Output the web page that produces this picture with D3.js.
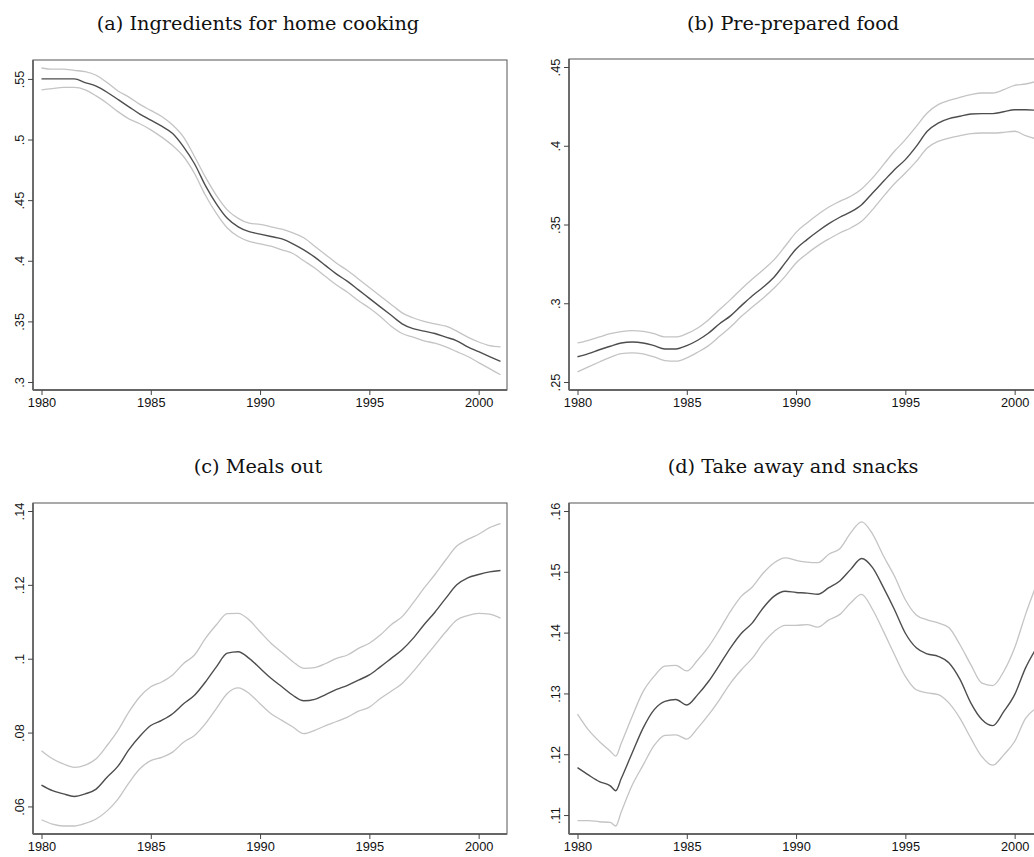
<!DOCTYPE html>
<html>
<head>
<meta charset="utf-8">
<script src="https://cdn.jsdelivr.net/npm/d3@7"></script>
<style>
  body { margin: 0; background: #fff; }
  svg { display: block; }
  .tick text { font-family: "Liberation Sans", Arial, sans-serif; font-size: 12.8px; fill: #111; }
  .title { font-family: "DejaVu Serif", "Liberation Serif", serif; font-size: 19.3px; fill: #111; }
</style>
</head>
<body>
<svg id="chart" width="1034" height="857"></svg>
<script>
// half-year grid used by panels a-c
const years = [1980, 1980.5, 1981, 1981.5, 1982, 1982.5, 1983, 1983.5, 1984, 1984.5,
  1985, 1985.5, 1986, 1986.5, 1987, 1987.5, 1988, 1988.5, 1989, 1989.5,
  1990, 1990.5, 1991, 1991.5, 1992, 1992.5, 1993, 1993.5, 1994, 1994.5,
  1995, 1995.5, 1996, 1996.5, 1997, 1997.5, 1998, 1998.5, 1999, 1999.5,
  2000, 2000.5, 2001];
// panel d has an extra point at the 1981 dip
const yearsD = [1980, 1980.5, 1981, 1981.5, 1981.75, 1982, 1982.5, 1983, 1983.5, 1984, 1984.5,
  1985, 1985.5, 1986, 1986.5, 1987, 1987.5, 1988, 1988.5, 1989, 1989.5,
  1990, 1990.5, 1991, 1991.5, 1992, 1992.5, 1993, 1993.5, 1994, 1994.5,
  1995, 1995.5, 1996, 1996.5, 1997, 1997.5, 1998, 1998.5, 1999, 1999.5,
  2000, 2000.5, 2001];

const xTicks = [1980, 1985, 1990, 1995, 2000];

// (a) Ingredients for home cooking
const homeMid = [.550, .550, .550, .550, .547, .544, .539, .533, .527, .521,
  .516, .511, .505, .494, .480, .462, .447, .435, .428, .424,
  .422, .420, .418, .414, .409, .403, .396, .389, .383, .376,
  .369, .362, .355, .348, .344, .342, .340, .337, .334, .329,
  .325, .321, .317];
const homeUp = [.559, .558, .558, .557, .556, .553, .547, .540, .535, .529,
  .524, .519, .512, .502, .486, .469, .454, .442, .435, .431,
  .430, .428, .426, .423, .419, .412, .405, .398, .392, .385,
  .378, .371, .364, .357, .353, .350, .348, .346, .342, .337,
  .333, .330, .329];
const homeLo = [.541, .542, .543, .543, .541, .536, .530, .523, .517, .513,
  .508, .502, .495, .486, .472, .454, .439, .427, .420, .416,
  .414, .412, .409, .406, .400, .394, .387, .380, .374, .367,
  .361, .354, .346, .340, .337, .334, .332, .329, .325, .321,
  .316, .311, .306];
const homeTicks = [.3, .35, .4, .45, .5, .55];

// (b) Pre-prepared food
const prepMid = [.2660, .2680, .2705, .2727, .2748, .2754, .2748, .2731, .2710, .2710,
  .2731, .2765, .2811, .2870, .2920, .2985, .3048, .3103, .3167, .3256,
  .3345, .3404, .3457, .3505, .3546, .3580, .3626, .3700, .3774, .3848,
  .3912, .3996, .4092, .4144, .4172, .4187, .4202, .4204, .4204, .4216,
  .4229, .4229, .4225];
const prepUp = [.2748, .2765, .2786, .2807, .2820, .2826, .2822, .2807, .2786, .2786,
  .2807, .2843, .2896, .2960, .3023, .3091, .3154, .3213, .3277, .3362,
  .3450, .3510, .3563, .3611, .3647, .3679, .3726, .3796, .3880, .3965,
  .4039, .4123, .4208, .4261, .4288, .4307, .4324, .4335, .4335, .4356,
  .4384, .4392, .4409];
const prepLo = [.2564, .2596, .2627, .2657, .2680, .2685, .2678, .2659, .2636, .2632,
  .2653, .2689, .2731, .2790, .2849, .2917, .2976, .3034, .3097, .3171,
  .3256, .3315, .3366, .3408, .3446, .3478, .3520, .3594, .3679, .3759,
  .3827, .3901, .3986, .4028, .4049, .4064, .4077, .4081, .4081, .4085,
  .4092, .4064, .4043];
const prepTicks = [.25, .3, .35, .4, .45];

// (c) Meals out
const mealsMid = [.0658, .0643, .0634, .0627, .0634, .0647, .0679, .0709, .0754, .0790,
  .0819, .0833, .0851, .0878, .0901, .0937, .0978, .1015, .1019, .1001,
  .0974, .0947, .0924, .0901, .0886, .0890, .0903, .0917, .0928, .0942,
  .0956, .0978, .1001, .1024, .1055, .1092, .1126, .1164, .1200, .1219,
  .1228, .1235, .1239];
const mealsUp = [.0751, .0729, .0715, .0706, .0712, .0729, .0765, .0806, .0856, .0897,
  .0924, .0937, .0956, .0987, .1010, .1055, .1092, .1122, .1123, .1105,
  .1073, .1042, .1017, .0992, .0974, .0976, .0987, .1001, .1010, .1028,
  .1042, .1064, .1092, .1114, .1151, .1191, .1228, .1268, .1305, .1323,
  .1337, .1355, .1366];
const mealsLo = [.0564, .0552, .0547, .0547, .0554, .0566, .0588, .0620, .0664, .0702,
  .0724, .0733, .0747, .0774, .0792, .0824, .0865, .0906, .0921, .0906,
  .0878, .0851, .0833, .0815, .0797, .0806, .0819, .0830, .0842, .0858,
  .0869, .0892, .0912, .0933, .0965, .1001, .1037, .1073, .1105, .1117,
  .1123, .1121, .1110];
const mealsTicks = [.06, .08, .1, .12, .14];

// (d) Take away and snacks
const takeMid = [.1178, .1166, .1155, .1148, .1140, .1160, .1202, .1243, .1273, .1287, .1290,
  .1281, .1298, .1320, .1347, .1375, .1399, .1416, .1441, .1460, .1468,
  .1466, .1465, .1463, .1474, .1485, .1504, .1522, .1507, .1474, .1438,
  .1399, .1375, .1365, .1361, .1350, .1323, .1284, .1257, .1247, .1270,
  .1298, .1342, .1375];
const takeUp = [.1266, .1240, .1221, .1205, .1197, .1218, .1262, .1303, .1328, .1345, .1346,
  .1337, .1355, .1377, .1405, .1435, .1460, .1475, .1498, .1515, .1523,
  .1519, .1516, .1515, .1529, .1538, .1564, .1582, .1562, .1526, .1493,
  .1454, .1429, .1421, .1416, .1408, .1380, .1347, .1317, .1313, .1336,
  .1375, .1430, .1479];
const takeLo = [.1091, .1091, .1089, .1088, .1082, .1105, .1149, .1182, .1214, .1231, .1232,
  .1225, .1243, .1265, .1290, .1317, .1339, .1358, .1383, .1402, .1412,
  .1412, .1413, .1409, .1421, .1430, .1449, .1463, .1438, .1402, .1364,
  .1328, .1306, .1301, .1298, .1284, .1259, .1226, .1196, .1182, .1199,
  .1221, .1259, .1276];
const takeTicks = [.11, .12, .13, .14, .15, .16];

const ciColor = '#c4c4c4';
const midColor = '#4d4d4d';

const panels = [
  { title: '(a) Ingredients for home cooking', x: years, mid: homeMid, up: homeUp, lo: homeLo,
    ticks: homeTicks, box: { left: 33, right: 507, top: 60, bottom: 390 }, titleX: 258, titleY: 30 },
  { title: '(b) Pre-prepared food', x: years, mid: prepMid, up: prepUp, lo: prepLo,
    ticks: prepTicks, box: { left: 569, right: 1043, top: 59, bottom: 390 }, titleX: 793, titleY: 30 },
  { title: '(c) Meals out', x: years, mid: mealsMid, up: mealsUp, lo: mealsLo,
    ticks: mealsTicks, box: { left: 33, right: 507, top: 503, bottom: 834 }, titleX: 258, titleY: 473 },
  { title: '(d) Take away and snacks', x: yearsD, mid: takeMid, up: takeUp, lo: takeLo,
    ticks: takeTicks, box: { left: 569, right: 1043, top: 503, bottom: 834 }, titleX: 793, titleY: 473 }
];

const svg = d3.select('#chart');
svg.append('rect').attr('width', 1034).attr('height', 857).attr('fill', '#fff');

function fmtTick(v) {
  // stata style: drop the leading zero
  return d3.format('')(+v.toFixed(3)).replace(/^0\./, '.');
}

panels.forEach(p => {
  const b = p.box;
  const pad = 8;

  let x = d3.scaleLinear()
    .domain([1980, 2001])
    .range([b.left + 8.5, b.right - 6.5]);

  let allVals = p.up.concat(p.lo, p.ticks);
  let y = d3.scaleLinear()
    .domain(d3.extent(allVals))
    .range([b.bottom - pad, b.top + pad]);

  let g = svg.append('g');

  g.append('text')
    .attr('class', 'title')
    .attr('x', p.titleX)
    .attr('y', p.titleY)
    .attr('text-anchor', 'middle')
    .text(p.title);

  // plot frame
  g.append('rect')
    .attr('x', b.left)
    .attr('y', b.top)
    .attr('width', b.right - b.left)
    .attr('height', b.bottom - b.top)
    .attr('fill', 'none')
    .attr('stroke', '#555')
    .attr('stroke-width', 1);

  let line = d3.line()
    .x((d, i) => x(p.x[i]))
    .y(d => y(d))
    .curve(d3.curveMonotoneX);

  [[p.up, ciColor, 1.3], [p.lo, ciColor, 1.3], [p.mid, midColor, 1.4]].forEach(s => {
    g.append('path')
      .datum(s[0])
      .attr('fill', 'none')
      .attr('stroke', s[1])
      .attr('stroke-width', s[2])
      .attr('stroke-linejoin', 'round')
      .attr('d', line);
  });

  let xAxis = d3.axisBottom(x)
    .tickValues(xTicks)
    .tickFormat(d3.format('d'))
    .tickSize(5)
    .tickPadding(3);

  let xg = g.append('g')
    .attr('transform', `translate(0, ${b.bottom})`)
    .call(xAxis);
  xg.select('.domain')
    .attr('d', `M${b.left},0H${b.right}`)
    .attr('stroke', '#666')
    .attr('stroke-width', 1.8);
  xg.selectAll('.tick line').attr('stroke', '#444');

  let yAxis = d3.axisLeft(y)
    .tickValues(p.ticks)
    .tickFormat(fmtTick)
    .tickSize(5)
    .tickPadding(0);

  let yg = g.append('g')
    .attr('transform', `translate(${b.left}, 0)`)
    .call(yAxis);
  yg.select('.domain')
    .attr('d', `M0,${b.top}V${b.bottom}`)
    .attr('stroke', '#666')
    .attr('stroke-width', 1.8);
  yg.selectAll('.tick line').attr('stroke', '#444');
  yg.selectAll('.tick text')
    .attr('x', 0)
    .attr('dy', 0)
    .attr('text-anchor', 'middle')
    .attr('transform', 'translate(-9, 0) rotate(-90)');
});
</script>
</body>
</html>
